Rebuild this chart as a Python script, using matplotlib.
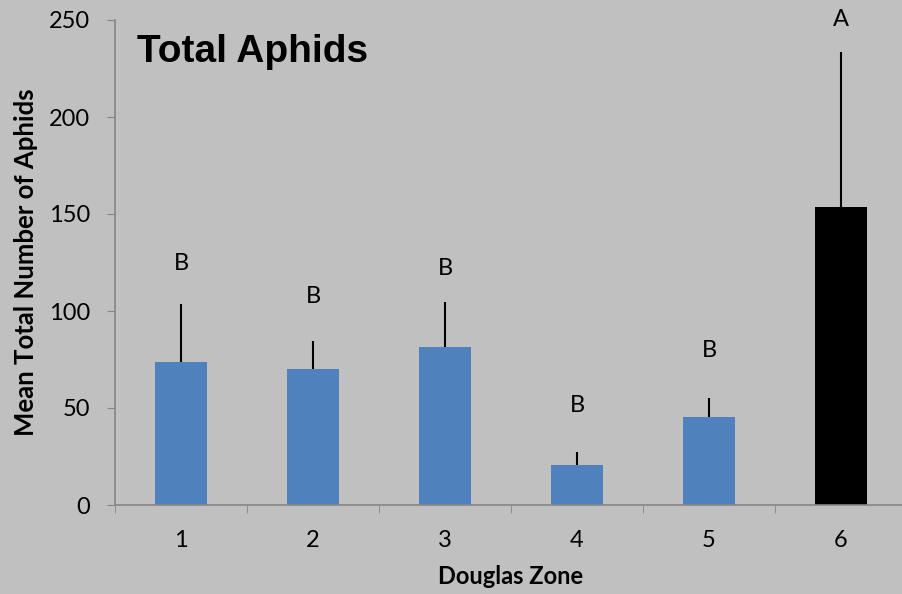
import matplotlib
matplotlib.use("Agg")
import matplotlib.pyplot as plt
import numpy as np

zones = ["1", "2", "3", "4", "5", "6"]
means = [73.7, 70.0, 81.4, 20.6, 45.4, 153.6]
err_up = [29.9, 14.5, 23.2, 6.7, 9.8, 79.9]
letters = ["B", "B", "B", "B", "B", "A"]
letter_y = [124.7, 107.7, 122.0, 51.5, 79.4, 250.0]
bar_colors = ["#4f81bd", "#4f81bd", "#4f81bd", "#4f81bd", "#4f81bd", "#000000"]
yticks = [0, 50, 100, 150, 200, 250]

bg = "#c0c0c0"
fnt = "Lato"
fig = plt.figure(figsize=(9.02, 5.94), dpi=100, facecolor=bg)
W, H = 902, 594
left, right, top, bottom = 115, 907, 20, 505
ax = fig.add_axes([left / W, 1 - bottom / H, (right - left) / W, (bottom - top) / H])
ax.set_facecolor(bg)

x = np.arange(len(zones))
ax.bar(x, means, width=0.4, color=bar_colors, zorder=2)
ax.errorbar(x, means, yerr=[np.zeros(len(means)), err_up], fmt="none",
            ecolor="black", elinewidth=1.5, capsize=0, zorder=3)
for xi, lt, ly in zip(x, letters, letter_y):
    ax.text(xi, ly, lt, ha="center", va="center", fontsize=17,
            family=fnt, color="black", clip_on=False)

ax.set_xlim(-0.5, len(zones) - 0.5)
ax.set_ylim(0, 250)
ax.set_yticks(yticks)
ax.set_yticklabels([str(v) for v in yticks], fontsize=17, family=fnt)
ax.set_xticks(x)
ax.set_xticklabels(zones, fontsize=17, family=fnt)
ax.tick_params(axis="x", length=0, pad=18)
ax.set_xticks(np.arange(-0.5, len(zones), 1), minor=True)
ax.tick_params(axis="x", which="minor", length=6, color="#868686", direction="out")
ax.tick_params(axis="y", length=6, color="#868686", direction="out", pad=12)

for s in ["top", "right"]:
    ax.spines[s].set_visible(False)
for s in ["left", "bottom"]:
    ax.spines[s].set_color("#868686")
    ax.spines[s].set_linewidth(1.2)

ax.set_xlabel("Douglas Zone", fontsize=17, fontweight="bold", family=fnt, labelpad=10)
ax.set_ylabel("Mean Total Number of Aphids", fontsize=18.5, fontweight="bold",
              family=fnt, labelpad=8)

fig.text(137 / W, 1 - 62 / H, "Total Aphids", fontsize=28, fontweight="bold",
         family="Liberation Sans", va="baseline", ha="left")

fig.savefig("out.png", dpi=100, facecolor=bg)
